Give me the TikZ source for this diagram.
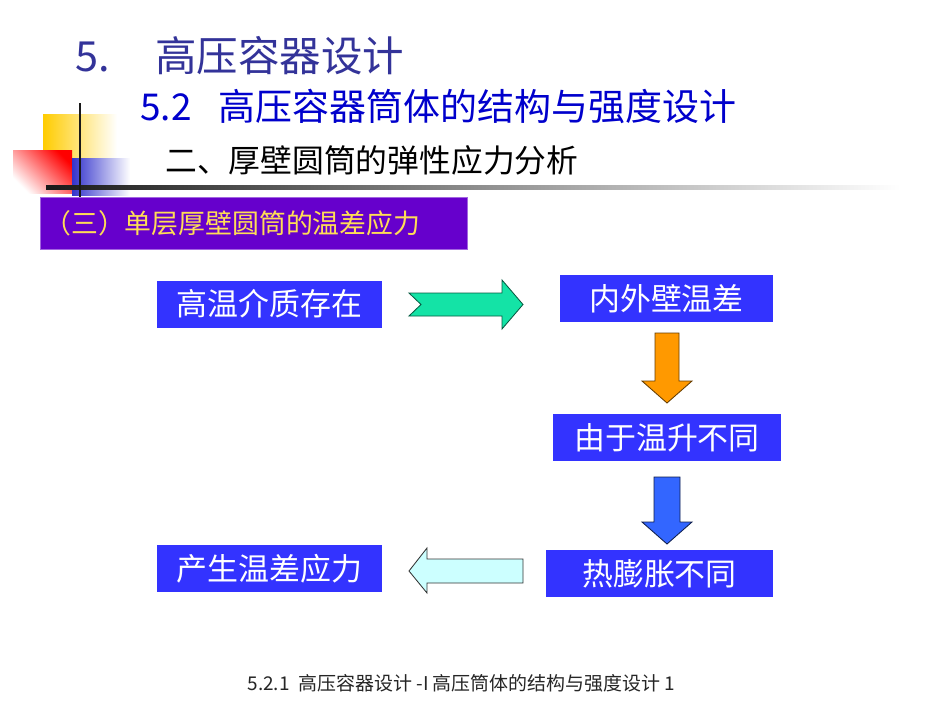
\documentclass[tikz,border=0pt]{standalone}
\usepackage{fontspec}
\setmainfont{Noto Sans CJK SC}
\definecolor{titleblue}{HTML}{333399}
\definecolor{subblue}{HTML}{0000CC}
\definecolor{flowblue}{HTML}{3333FF}
\definecolor{secpurple}{HTML}{6600CC}
\definecolor{secyellow}{HTML}{FFDD55}
\definecolor{decoyellow}{HTML}{FFCC00}
\definecolor{decoblue}{HTML}{3333CC}
\definecolor{arrowgreen}{HTML}{14E3A6}
\definecolor{arroworange}{HTML}{FF9900}
\definecolor{arrowblue}{HTML}{3366FF}
\definecolor{arrowcyan}{HTML}{CCFFFF}

\begin{document}
\begin{tikzpicture}[x=0.025cm, y=-0.025cm,
  flowbox/.style={rectangle, fill=flowblue, text=white, font=\fontsize{22}{26}\selectfont, minimum height=1.175cm, inner sep=0pt},
  blockarrow/.style={line width=0.6pt, line join=miter}]
\useasboundingbox[fill=white] (0,0) rectangle (950,713);
% corner decoration
\shade[left color=decoyellow, middle color=decoyellow!85!white, right color=white] (43,114) rectangle (117,158);
\shade[top color=red, bottom color=white, shading angle=-45] (13,150) rectangle (72,193);
\shade[left color=decoblue, middle color=decoblue!75!white, right color=white] (72,158) rectangle (130,195);
\shade[left color=black!90, right color=white] (46,185.5) rectangle (900,189);
\draw[line width=2pt, black!90] (80,103) -- (80,197);

% headings
\node[anchor=base west, inner sep=0pt, text=titleblue, font=\fontsize{29.5}{34}\selectfont] (chapnum) at (75,71) {5.};
\node[anchor=base west, inner sep=0pt, text=titleblue, font=\fontsize{29.5}{34}\selectfont] (chaptitle) at (155,71) {高压容器设计};
\node[anchor=base west, inner sep=0pt, text=subblue, font=\fontsize{26.3}{30}\selectfont] (secnum) at (140,120) {5.2};
\node[anchor=base west, inner sep=0pt, text=subblue, font=\fontsize{26.3}{30}\selectfont] (sectitle) at (218,120) {高压容器筒体的结构与强度设计};
\node[anchor=base west, inner sep=0pt, font=\fontsize{22.6}{27}\selectfont] (subsec) at (165,172) {二、厚壁圆筒的弹性应力分析};
\node[anchor=north west, fill=secpurple, draw=secpurple!60!white, line width=0.5pt, minimum width=10.675cm, minimum height=1.3cm, text width=10.475cm, inner xsep=0.1cm, inner ysep=0pt, align=left, text=secyellow, font=\fontsize{19.1}{23}\selectfont] (topic) at (40,197) {（三）单层厚壁圆筒的温差应力};

% flow boxes
\node[flowbox, minimum width=5.625cm] (hightemp) at (269.5,304) {高温介质存在};
\node[flowbox, minimum width=5.325cm] (walldiff) at (666.5,298.5) {内外壁温差};
\node[flowbox, minimum width=5.7cm] (tempdiff) at (667,437.5) {由于温升不同};
\node[flowbox, minimum width=5.675cm] (expand) at (659.5,573.5) {热膨胀不同};
\node[flowbox, minimum width=5.625cm] (stress) at (269.5,568.5) {产生温差应力};

% block arrows
\draw[blockarrow, fill=arrowgreen, draw=arrowgreen!40!black] (409,293) -- (502,293) -- (502,280) -- (523,304.5) -- (502,329) -- (502,316) -- (409,316) -- (421,304.5) -- cycle;
\draw[blockarrow, fill=arroworange, draw=arroworange!40!black] (655,333) -- (679,333) -- (679,381) -- (692,381) -- (667,403) -- (642,381) -- (655,381) -- cycle;
\draw[blockarrow, fill=arrowblue, draw=arrowblue!30!black] (654,477) -- (680,477) -- (680,522) -- (692,522) -- (667,544) -- (642,522) -- (654,522) -- cycle;
\draw[blockarrow, fill=arrowcyan, draw=black!80] (523,559) -- (427,559) -- (427,548) -- (409,571) -- (427,593) -- (427,583) -- (523,583) -- cycle;

% footer
\node[font=\fontsize{13.5}{16}\selectfont, text=black!85] (footer) at (461.5,683) {5.2.1\ \ 高压容器设计 -I 高压筒体的结构与强度设计 1};
\end{tikzpicture}
\end{document}
